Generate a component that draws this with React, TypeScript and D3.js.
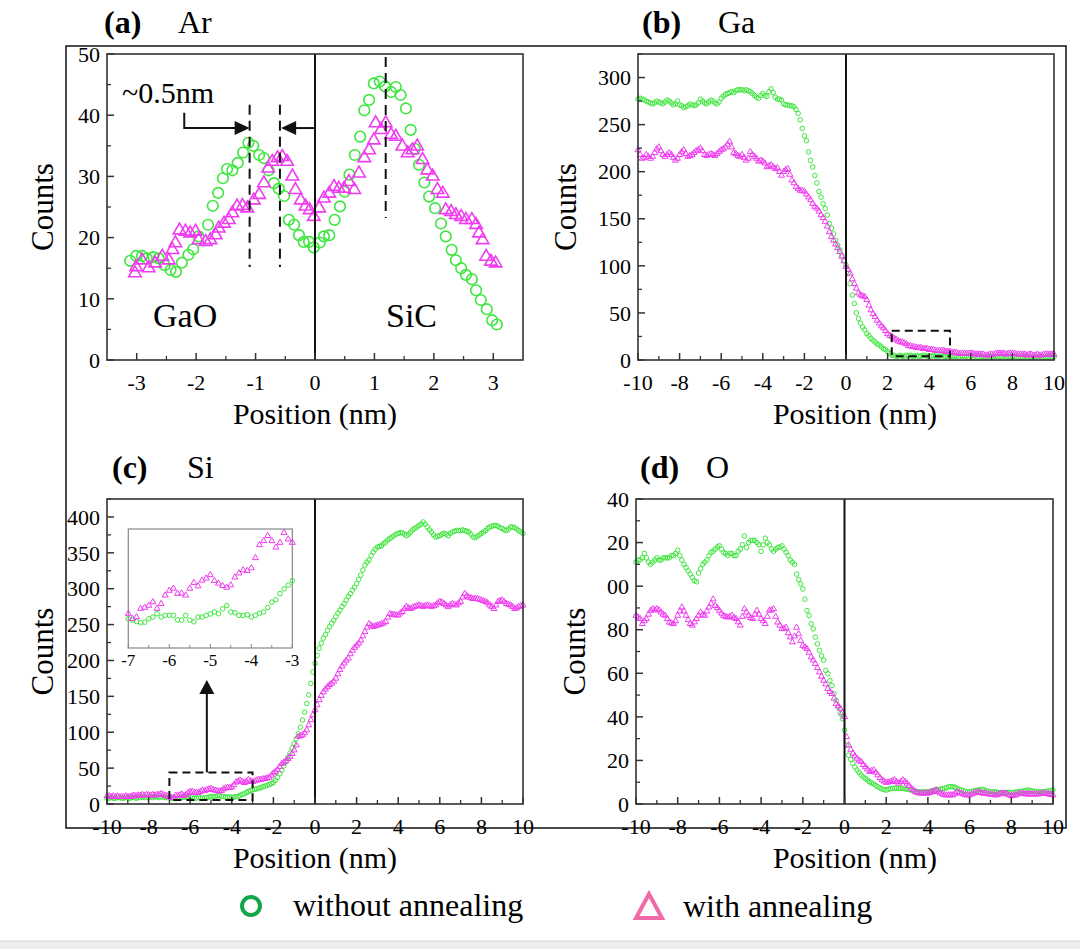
import React from "react";
import * as d3 from "d3";

const FONT = "'Liberation Serif','Times New Roman',serif";
const GREEN = "#3fe63f";
const MAG = "#f03cf0";

// ---------- Panel (a) Ar ----------
const arWithoutX = [-3.11,-3.01,-2.91,-2.83,-2.72,-2.63,-2.53,-2.43,-2.34,-2.24,-2.13,-2.05,-1.96,-1.8,-1.72,-1.63,-1.55,-1.48,-1.39,-1.3,-1.21,-1.12,-1.04,-0.94,-0.86,-0.78,-0.69,-0.61,-0.52,-0.44,-0.35,-0.27,-0.19,-0.1,-0.02,0.08,0.15,0.24,0.33,0.42,0.5,0.58,0.67,0.76,0.83,0.91,0.99,1.09,1.18,1.28,1.36,1.44,1.53,1.61,1.68,1.75,1.84,1.92,2.02,2.12,2.2,2.3,2.37,2.46,2.54,2.64,2.71,2.79,2.89,2.98,3.06];
const arWithoutY = [16.2,17,17,16.6,16.8,16.6,15.5,14.7,14.4,15.9,17.2,18.1,20.2,22.1,25.2,27.3,29.7,31.2,31,32.2,33.9,35.5,35,33.5,33,31,28.9,28,26.8,22.9,22.1,20.4,19.3,19.3,18.4,19.2,20.2,20.4,22.9,25.1,27.5,30.3,33.5,36.5,40.8,42.5,45.2,45.5,44.7,43.8,44.6,43.3,41.1,37.6,34.5,31.9,29,26.7,24.8,22.3,20.2,18,16.3,15,13.9,13.2,11.4,9.8,8.3,6.5,5.8];
const arWithX = [-3.03,-3.01,-2.91,-2.8,-2.69,-2.57,-2.46,-2.4,-2.35,-2.28,-2.18,-2.1,-2.01,-1.96,-1.84,-1.76,-1.67,-1.62,-1.53,-1.45,-1.39,-1.31,-1.22,-1.14,-1.03,-0.94,-0.86,-0.79,-0.72,-0.63,-0.55,-0.47,-0.38,-0.33,-0.24,-0.16,-0.09,-0.02,0.07,0.15,0.24,0.32,0.4,0.49,0.57,0.66,0.74,0.83,0.91,0.99,1.02,1.11,1.19,1.28,1.36,1.47,1.56,1.64,1.72,1.81,1.89,1.98,2.06,2.15,2.2,2.29,2.37,2.46,2.54,2.64,2.71,2.76,2.82,2.88,2.96,3.04];
const arWithY = [14.2,15.2,16.3,15,15.8,16.9,16.3,18,19.1,21.2,21,20.7,21,19.6,19.3,19.6,20.4,21.5,22.3,22.9,24,25.1,25.2,24.8,26.1,27,28.9,31.3,32.4,33,33.2,32.4,30,27.8,26.1,25.1,24.5,23.4,24.8,26.4,27.2,28.3,28,28,29.1,27.8,30.5,33,34.3,35.9,38.7,37.6,38.7,36.8,36.5,34.9,33.8,34.3,34.9,32.7,31,30,27.8,27.2,24.5,24.2,23.7,23.4,22.9,22.9,22.1,20.7,19.6,16.9,16.1,15.8];

// ---------- Panels (b)(c)(d): positions -10..10 nm, step 0.1 ----------
const positions = d3.range(201).map((i) => Math.round((-10 + i * 0.1) * 10) / 10);

const gaWithout = [
  277,278,277,276,275,274,273,272,273,275,
  274,273,272,274,276,275,273,271,272,275,
  271,270,268,269,270,272,271,270,271,273,
  277,275,273,272,274,276,275,273,272,274,
  278,280,282,283,284,285,284,286,287,287,
  287,286,287,286,285,283,281,279,278,281,
  283,281,280,285,288,284,279,277,277,276,
  272,271,271,270,270,269,266,262,255,246,
  238,233,221,212,205,196,188,179,173,166,
  161,154,145,140,134,127,122,117,111,106,
  101,92,81,69,60,50,44,39,35,32,
  28,26,23,21,19,17,16,14,12,11,
  9,7,5,5,4,4,5,4,4,5,
  4,5,4,4,5,4,4,5,5,4,
  4,4,5,4,4,4,5,4,4,4,
  4,4,4,4,3,4,4,4,4,3,
  4,3,4,3,3,4,3,3,3,4,
  3,3,4,3,3,3,4,3,3,3,
  3,4,3,3,3,3,4,3,3,3,
  3,3,3,4,3,3,3,3,4,3,
  3];
const gaWith = [
  223,218,214,215,218,216,214,216,220,224,
  226,222,218,216,218,220,218,215,212,214,
  218,221,223,219,216,217,218,220,222,223,
  225,222,218,217,218,219,218,217,219,221,
  223,224,226,229,232,226,220,219,217,216,
  218,215,212,214,221,218,216,214,211,212,
  211,209,205,206,207,205,203,204,200,196,
  200,202,203,197,191,188,184,182,180,180,
  179,176,173,170,166,163,161,158,154,151,
  147,142,136,131,127,123,119,115,110,105,
  99,96,92,86,81,76,71,69,68,67,
  64,58,53,49,46,42,39,36,34,31,
  28,26,25,23,22,20,19,19,18,17,
  15,15,14,14,13,13,13,12,12,12,
  11,11,11,10,10,10,10,10,9,9,
  9,8,8,8,7,7,7,7,7,7,
  7,7,6,6,6,6,6,5,5,6,
  6,6,7,7,7,7,7,6,7,7,
  7,7,6,6,6,6,6,5,6,6,
  5,5,6,5,5,6,6,6,6,6,
  6];
const siWithout = [
  8,8,9,8,8,9,9,8,8,9,
  9,8,9,9,8,9,9,10,9,9,
  9,10,9,10,10,9,10,10,9,9,
  8.6,8.2,7.8,7.4,7.6,8.6,9.1,10.1,9.1,9.6,
  9.6,9.6,8.3,8.2,9.6,8.2,7.7,9.1,9.1,9.6,
  10,10.6,10.1,11.5,12.5,10.6,10.4,9.6,9.6,9.8,
  9.1,9.6,10.2,10.6,11.9,13.5,14.2,16,17.4,18.5,
  19.8,20.5,21,22,23,24,25,26,27,28.5,
  30,33,37,42,47,53,59,65,71,78,
  84,91,98,107,117,128,140,152,168,184,
  196,207,217,224,231,236,242,247,252,256,
  261,266,270,275,279,284,289,293,298,302,
  307,313,319,326,333,337,340,346,351,355,
  358,359,360,363,365,368,370,372,374,376,
  377,378,378,376,374,376,379,382,384,386,
  388,390,393,390,386,382,379,375,372,373,
  374,376,377,376,374,377,379,380,381,381,
  381,382,381,380,379,376,372,371,373,375,
  377,379,381,384,386,387,388,388,387,385,
  384,382,381,383,386,386,385,383,381,379,
  377];
const siWith = [
  11,11,10,11,10,11,10,10,10,11,
  10,10,11,12,11,12,12,13,12,13,
  12.5,12,13,12,13,13,14,13,12,11,
  10.1,8.6,9.1,11.6,11.9,12.5,13.5,11.6,13,15.5,
  16.9,17.5,16,16.1,15.5,17.5,19.2,18.2,19.9,20.5,
  21.5,19.8,19,18.3,17.8,18.5,20.8,22,22.9,22.7,
  23.5,26.5,30.3,31.5,33,31.5,29.6,31,33.9,32,
  31,32,33,34,34,35,35,36,37,40,
  43,45,48,52,56,58,60,63,66,70,
  75,82,94,95,96,99,103,110,117,124,
  131,138,145,151,156,160,163,166,168,171,
  175,181,187,192,196,200,203,209,214,218,
  221,224,228,234,240,246,251,249,247,248,
  249,250,251,252,254,260,265,264,264,263,
  263,266,268,272,275,273,272,274,275,276,
  277,276,275,276,277,276,275,276,277,280,
  282,281,279,277,275,277,279,278,277,280,
  282,288,293,290,288,287,286,286,286,285,
  284,283,282,280,277,275,272,277,282,283,
  284,282,279,278,277,275,272,273,275,276,
  277];
const oWithout = [
  111,112,112,113,115,113,111,110,111,112,
  113,112,112,113,113,113,113,114,114,115,
  116.5,114,112,110,108.6,107,105.5,104,102.5,102,
  106,108,110,111,112,114,115.5,116,117,118,
  118.5,117,115.5,115,114,115,115,114,114,116,
  117,119,123,117.7,120,121,121,121,120,119,
  116,119,122,120,119,117,116,117,117.7,118,
  118.5,117,115.5,114,112,111,110,105.5,103,101,
  98.7,94,88.8,86.5,82.7,80.4,76.6,73.5,70.5,68,
  66,61.3,59.8,56.7,54.4,50.6,47.6,44.5,41.5,39.2,
  33.9,27,22.4,20.5,18.6,17,15.6,14.5,13.3,12.5,
  11.7,11,10.2,9.7,9.2,8.5,7.9,7.4,6.9,6.6,
  6.4,6.8,7,7.2,7.2,7.3,7.2,7.2,7.2,7,
  6.8,6.6,6.4,6,5.8,5.6,5.6,5.5,5.5,5.6,
  5.6,5.8,6,6.2,6.4,6.6,6.8,7,7.2,7.5,
  7.9,8,7.9,7.7,7.2,6.8,6.4,6,5.8,5.6,
  5.6,5.8,6,6.2,6.4,6.6,6.8,6.4,6,5.8,
  5.6,5.6,5.6,5.4,5.2,5.2,5.2,5.2,5.3,5.4,
  5.2,5.3,5.5,5.6,5.6,5.8,6,6.2,6.4,6.2,
  6,5.8,5.6,5.6,5.6,5.6,5.6,5.8,6,6.2,
  6.4];
const oWith = [
  86.5,85.7,85,82.7,84,85,87,88.8,89.5,89,
  89.5,89,88,87,86.5,85,83.4,83,82.7,84,
  86.5,88.5,90.3,88.5,86.5,84.5,82.7,82,83.5,85,
  86.5,88,87,86.5,88.5,90.3,92,94,91,90,
  88.8,87.5,86.5,86,85.7,86,86.5,85.5,85,83.5,
  82,86,89.5,88,86.5,85.5,85,87,88.8,87,
  85,84,82.7,86,88.8,89,89.5,86,83.4,82,
  80.4,80.5,81,78.5,76.6,74.3,77,81,78,75,
  72.7,72,71.2,69.5,67.4,66,64.4,62.5,60.5,58.5,
  56.7,55,52.9,51.5,50.6,48.5,46,45,43.8,42,
  40,30.8,27,25,23.2,22,20.9,20,19.4,18,
  17,16,14.8,15.2,15.6,14.5,13.3,12,11,10.4,
  9.8,10,10.2,10.6,11,10.2,9.5,10.2,11,10.2,
  9.5,8.4,7.2,6.4,5.6,5.2,4.9,4.9,4.9,4.9,
  4.9,5.2,5.6,6,6.4,5.6,4.9,4.5,4.1,4.1,
  4.1,4.1,4.1,4.8,5.6,5.2,4.9,4.5,4.1,4.1,
  4.1,4.5,4.9,5.2,5.6,5.2,4.9,4.9,4.9,4.5,
  4.5,4.3,4.1,4.1,4.5,4.9,4.9,4.9,4.5,4.1,
  3.7,3.9,4.1,4.5,4.9,4.9,4.7,4.5,4.5,4.5,
  4.5,4.5,4.5,4.5,4.7,4.9,4.9,4.7,4.5,4.3,
  4.1];

const xTicksWide = [-10, -8, -6, -4, -2, 0, 2, 4, 6, 8, 10];
const xTicksAr = [-3, -2, -1, 0, 1, 2, 3];
const insetTicks = [-7, -6, -5, -4, -3];

function tri(cx: number, cy: number, s: number) {
  const h = s * 0.866;
  return `M${cx},${cy - (h * 2) / 3}L${cx + s / 2},${cy + h / 3}L${cx - s / 2},${cy + h / 3}Z`;
}

type PanelProps = {
  left: number; right: number; top: number; bottom: number;
  xDom: [number, number]; yDom: [number, number];
  xMajor: number[]; xMinorStep: number;
  yMajorStep: number; yMinorStep: number;
  gx: number[]; gy: number[]; mx: number[]; my: number[];
  big?: boolean;
  yFmt?: (d: number) => string;
  title: string; elem: string; titleX: number; elemX: number; titleY: number;
  xLabelX: number; countsX: number;
  children?: (x: d3.ScaleLinear<number, number>, y: d3.ScaleLinear<number, number>) => React.ReactNode;
};

function Panel(p: PanelProps) {
  const x = d3.scaleLinear().domain(p.xDom).range([p.left, p.right]);
  const y = d3.scaleLinear().domain(p.yDom).range([p.bottom, p.top]);
  const yMajor = d3.range(p.yDom[0], p.yDom[1] + 0.001, p.yMajorStep);
  const yMinor = d3.range(p.yDom[0], p.yDom[1] + 0.001, p.yMinorStep).filter((v) => !yMajor.includes(v));
  const xMinor = d3.range(p.xDom[0], p.xDom[1] + 0.001, p.xMinorStep)
    .map((v) => Math.round(v * 100) / 100)
    .filter((v) => v > p.xDom[0] && v < p.xDom[1] && !p.xMajor.includes(v));
  const fmt = p.yFmt || ((d: number) => String(d));
  const r = p.big ? 5.3 : 2.3;
  const ts = p.big ? 12.5 : 6;
  const sw = p.big ? 1.6 : 1;
  return (
    <g>
      <text x={p.titleX} y={p.titleY} fontFamily={FONT} fontSize={32} fontWeight="bold">{p.title}</text>
      <text x={p.elemX} y={p.titleY} fontFamily={FONT} fontSize={32}>{p.elem}</text>
      {p.gx.map((v, i) => (
        <circle key={"g" + i} cx={x(v)} cy={y(p.gy[i])} r={r} fill="none" stroke={GREEN} strokeWidth={sw} />
      ))}
      {p.mx.map((v, i) => (
        <path key={"m" + i} d={tri(x(v), y(p.my[i]), ts)} fill="none" stroke={MAG} strokeWidth={sw} />
      ))}
      <line x1={x(0)} x2={x(0)} y1={p.top} y2={p.bottom} stroke="#111" strokeWidth={2} />
      <rect x={p.left} y={p.top} width={p.right - p.left} height={p.bottom - p.top} fill="none" stroke="#333" strokeWidth={1.6} />
      {yMajor.map((v) => (
        <g key={"ym" + v}>
          <line x1={p.left} x2={p.left + 7} y1={y(v)} y2={y(v)} stroke="#333" strokeWidth={1.5} />
          <text x={p.left - 7} y={y(v)} dy="0.35em" textAnchor="end" fontFamily={FONT} fontSize={22}>{fmt(v)}</text>
        </g>
      ))}
      {yMinor.map((v) => (
        <line key={"yn" + v} x1={p.left} x2={p.left + 4} y1={y(v)} y2={y(v)} stroke="#333" strokeWidth={1.3} />
      ))}
      {p.xMajor.map((v) => (
        <g key={"xm" + v}>
          <line x1={x(v)} x2={x(v)} y1={p.bottom} y2={p.bottom - 7} stroke="#333" strokeWidth={1.5} />
          <text x={x(v)} y={p.bottom + 30} textAnchor="middle" fontFamily={FONT} fontSize={22}>{String(v)}</text>
        </g>
      ))}
      {xMinor.map((v) => (
        <line key={"xn" + v} x1={x(v)} x2={x(v)} y1={p.bottom} y2={p.bottom - 4} stroke="#333" strokeWidth={1.3} />
      ))}
      <text x={p.xLabelX} y={p.bottom + 64} textAnchor="middle" fontFamily={FONT} fontSize={30}>Position (nm)</text>
      <text transform={`translate(${p.countsX},${(p.top + p.bottom) / 2}) rotate(-90)`} textAnchor="middle" fontFamily={FONT} fontSize={31}>Counts</text>
      {p.children && p.children(x, y)}
    </g>
  );
}

export default function App() {
  const ix = d3.scaleLinear().domain([-7, -3]).range([128.3, 292.3]);
  const iy = d3.scaleLinear().domain([0, 35]).range([648, 529]);
  const insetIdx = positions.map((v, i) => i).filter((i) => positions[i] >= -7 && positions[i] <= -3);
  const insetMinor = [-6.5, -5.5, -4.5, -3.5];

  return (
    <svg width={1080} height={949} style={{ position: "absolute", left: 0, top: 0, background: "#fff" }}>
      <rect x={0} y={0} width={1080} height={949} fill="#fff" />
      <rect x={66} y={46} width={1000} height={782} fill="none" stroke="#111" strokeWidth={1.5} />

      <Panel left={107} right={523} top={54} bottom={360} xDom={[-3.5, 3.5]} yDom={[0, 50]}
        xMajor={xTicksAr} xMinorStep={0.5} yMajorStep={10} yMinorStep={5}
        gx={arWithoutX} gy={arWithoutY} mx={arWithX} my={arWithY} big
        title="(a)" elem="Ar" titleX={104} elemX={178} titleY={33} xLabelX={315} countsX={53}>
        {(x, y) => (
          <g>
            <line x1={x(-1.1)} x2={x(-1.1)} y1={y(41.7)} y2={y(15.2)} stroke="#111" strokeWidth={2} strokeDasharray="10,6" />
            <line x1={x(-0.59)} x2={x(-0.59)} y1={y(41.7)} y2={y(15.2)} stroke="#111" strokeWidth={2} strokeDasharray="10,6" />
            <line x1={x(1.19)} x2={x(1.19)} y1={y(49.5)} y2={y(23.2)} stroke="#111" strokeWidth={2} strokeDasharray="10,6" />
            <path d={`M${x(-2.2)},${y(40.4)}V${y(37.9)}H${x(-1.1) - 14}`} fill="none" stroke="#111" strokeWidth={2} />
            <path d={`M${x(-1.1)},${y(37.9)}l-15,-7v14z`} fill="#111" />
            <line x1={x(0)} x2={x(-0.57) + 14} y1={y(37.9)} y2={y(37.9)} stroke="#111" strokeWidth={2} />
            <path d={`M${x(-0.57)},${y(37.9)}l15,-7v14z`} fill="#111" />
            <text x={122} y={103} fontFamily={FONT} fontSize={30}>~0.5nm</text>
            <text x={153} y={327} fontFamily={FONT} fontSize={34}>GaO</text>
            <text x={386} y={327} fontFamily={FONT} fontSize={34}>SiC</text>
          </g>
        )}
      </Panel>

      <Panel left={638} right={1054} top={54} bottom={360} xDom={[-10, 10]} yDom={[0, 325]}
        xMajor={xTicksWide} xMinorStep={1} yMajorStep={50} yMinorStep={25}
        gx={positions} gy={gaWithout} mx={positions} my={gaWith}
        title="(b)" elem="Ga" titleX={642} elemX={718} titleY={33} xLabelX={855} countsX={576}>
        {(x, y) => (
          <rect x={x(2.2)} y={y(31)} width={x(5) - x(2.2)} height={y(4) - y(31)} fill="none" stroke="#111" strokeWidth={2} strokeDasharray="8,5" />
        )}
      </Panel>

      <Panel left={107} right={523} top={499} bottom={804} xDom={[-10, 10]} yDom={[0, 425]}
        xMajor={xTicksWide} xMinorStep={1} yMajorStep={50} yMinorStep={25}
        gx={positions} gy={siWithout} mx={positions} my={siWith}
        title="(c)" elem="Si" titleX={112} elemX={187} titleY={478} xLabelX={315} countsX={53}>
        {(x, y) => (
          <g>
            <rect x={x(-7)} y={y(44)} width={x(-3) - x(-7)} height={y(5.5) - y(44)} fill="none" stroke="#111" strokeWidth={2} strokeDasharray="8,5" />
            <line x1={x(-5.2)} x2={x(-5.2)} y1={y(44)} y2={693} stroke="#111" strokeWidth={2} />
            <path d={`M${x(-5.2)},680l-7.5,14h15z`} fill="#111" />
            <rect x={128.3} y={529} width={164} height={119} fill="#fff" stroke="#888" strokeWidth={1.2} />
            {insetIdx.map((i) => (
              <circle key={"ig" + i} cx={ix(positions[i])} cy={iy(siWithout[i])} r={2.3} fill="none" stroke={GREEN} strokeWidth={1} />
            ))}
            {insetIdx.map((i) => (
              <path key={"im" + i} d={tri(ix(positions[i]), iy(siWith[i]), 6)} fill="none" stroke={MAG} strokeWidth={1} />
            ))}
            {insetTicks.map((v) => (
              <g key={"it" + v}>
                <line x1={ix(v)} x2={ix(v)} y1={648} y2={644} stroke="#888" />
                <text x={ix(v)} y={666} textAnchor="middle" fontFamily={FONT} fontSize={17}>{String(v)}</text>
              </g>
            ))}
            {insetMinor.map((v) => (
              <line key={"in" + v} x1={ix(v)} x2={ix(v)} y1={648} y2={645} stroke="#888" />
            ))}
          </g>
        )}
      </Panel>

      <Panel left={636} right={1053} top={499} bottom={804} xDom={[-10, 10]} yDom={[0, 140]}
        xMajor={xTicksWide} xMinorStep={1} yMajorStep={20} yMinorStep={10}
        gx={positions} gy={oWithout} mx={positions} my={oWith}
        yFmt={(d) => (d >= 100 ? String(d).slice(1) : String(d))}
        title="(d)" elem="O" titleX={640} elemX={706} titleY={478} xLabelX={855} countsX={585} />

      <circle cx={251} cy={906} r={9} fill="none" stroke="#12a54a" strokeWidth={4} />
      <text x={293} y={916} fontFamily={FONT} fontSize={32}>without annealing</text>
      <path d="M649,894L662,918L636,918Z" fill="none" stroke="#f06aa8" strokeWidth={4} />
      <text x={683} y={917} fontFamily={FONT} fontSize={32}>with annealing</text>

      <rect x={0} y={941} width={1080} height={8} fill="#eeeeee" />
      <line x1={0} x2={1080} y1={941} y2={941} stroke="#d6d6d6" strokeWidth={1} />
    </svg>
  );
}
